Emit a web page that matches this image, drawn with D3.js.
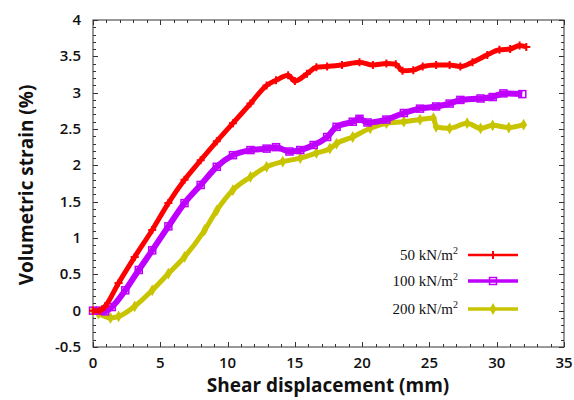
<!DOCTYPE html>
<html><head><meta charset="utf-8">
<script src="https://cdn.jsdelivr.net/npm/d3@7"></script>
<style>body{margin:0;background:#fff}svg{display:block}</style>
</head><body>
<svg id="c" width="574" height="400"></svg>
<script>
const xTicks = [0,5,10,15,20,25,30,35];
const yTicks = [-0.5,0,0.5,1,1.5,2,2.5,3,3.5,4];
const seriesNames = ["50 kN/m", "100 kN/m", "200 kN/m"];
const seriesColors = ["#ff0000", "#bf00ff", "#c8c400"];
const s50x = [0,0.5,0.9,1.9,3.1,4.4,5.6,6.8,8.0,9.2,10.4,11.7,12.9,13.6,14.5,15.0,15.9,16.6,17.4,18.5,19.8,20.8,21.8,22.5,23.0,23.8,24.5,25.5,26.5,27.3,28.2,29.3,30.2,31.0,31.7,32.2];
const s50y = [0,0,0.06,0.38,0.74,1.11,1.48,1.80,2.07,2.33,2.58,2.85,3.10,3.17,3.24,3.16,3.26,3.35,3.36,3.38,3.42,3.38,3.40,3.39,3.30,3.31,3.36,3.38,3.38,3.36,3.42,3.52,3.59,3.60,3.65,3.63];
const s100x = [0,0.5,0.9,1.4,2.4,3.4,4.4,5.6,6.8,8.0,9.2,10.4,11.7,12.9,13.6,14.6,15.4,16.4,17.4,18.1,19.3,19.8,20.4,21.8,23.1,24.3,25.5,26.5,27.3,28.8,29.7,30.5,31.9];
const s100y = [0,0,-0.01,0.05,0.28,0.56,0.83,1.16,1.48,1.73,1.98,2.14,2.21,2.23,2.25,2.19,2.21,2.28,2.39,2.53,2.60,2.64,2.59,2.63,2.72,2.78,2.81,2.85,2.90,2.92,2.94,2.99,2.98];
const s200x = [0,0.4,1.3,1.9,3.1,4.4,5.6,6.8,8.3,9.2,10.4,11.7,12.9,14.1,15.4,16.6,17.6,18.1,19.3,20.6,21.8,23.1,24.3,25.3,25.5,26.5,27.8,28.8,29.7,30.9,32.0];
const s200y = [0,-0.04,-0.10,-0.08,0.06,0.28,0.51,0.74,1.11,1.38,1.66,1.84,1.98,2.05,2.10,2.17,2.23,2.30,2.39,2.51,2.58,2.60,2.63,2.65,2.53,2.51,2.58,2.51,2.55,2.52,2.56];
const xTitle = "Shear displacement (mm)";
const yTitle = "Volumetric strain (%)";

const svg = d3.select("#c");
const L=93, R=564, T=20, B=347;
const x = d3.scaleLinear().domain([0,35]).range([L,R]);
const y = d3.scaleLinear().domain([-0.5,4]).range([B,T]);
const axisCol = "#333";
const fontSans = "'Open Sans', 'DejaVu Sans', sans-serif";

// frame
svg.append("rect").attr("x",L).attr("y",T).attr("width",R-L).attr("height",B-T)
  .attr("fill","none").attr("stroke",axisCol).attr("stroke-width",1);

// ticks (inward, all four sides)
const xMinor = d3.range(0,35.01,1);
const yMinor = d3.range(-0.5,4.001,0.1);
const tg = svg.append("g").attr("stroke",axisCol).attr("stroke-width",1);
xMinor.forEach(v=>{
  const major = Math.abs(v%5)<1e-6;
  const len = major?5:3;
  const px = Math.round(x(v))+0.5;
  tg.append("line").attr("x1",px).attr("x2",px).attr("y1",B).attr("y2",B-len);
  tg.append("line").attr("x1",px).attr("x2",px).attr("y1",T).attr("y2",T+len);
});
yMinor.forEach(v=>{
  const k = Math.round((v+0.5)*10);
  const major = k%5===0;
  const len = major?5:3;
  const py = Math.round(y(v))+0.5;
  tg.append("line").attr("x1",L).attr("x2",L+len).attr("y1",py).attr("y2",py);
  tg.append("line").attr("x1",R).attr("x2",R-len).attr("y1",py).attr("y2",py);
});

// tick labels
svg.append("g").selectAll("text").data(xTicks).join("text")
  .attr("x",d=>x(d)).attr("y",368).attr("text-anchor","middle")
  .attr("font-family",fontSans).attr("font-size",15).attr("font-weight",600).attr("fill","#111")
  .text(d=>d);
svg.append("g").selectAll("text").data(yTicks).join("text")
  .attr("x",81).attr("y",d=>y(d)+5).attr("text-anchor","end")
  .attr("font-family",fontSans).attr("font-size",15).attr("font-weight",600).attr("fill","#111")
  .text(d=>d);

// axis titles
svg.append("text").attr("x",328).attr("y",392).attr("text-anchor","middle")
  .attr("font-family",fontSans).attr("font-size",19).attr("font-weight",700).attr("fill","#111")
  .text(xTitle);
svg.append("text").attr("transform","translate(33,185) rotate(-90)").attr("text-anchor","middle")
  .attr("font-family",fontSans).attr("font-size",19).attr("font-weight",700).attr("fill","#111")
  .text(yTitle);

// series
const series = [
  {xs:s50x, ys:s50y, col:seriesColors[0], m:"plus"},
  {xs:s100x, ys:s100y, col:seriesColors[1], m:"square"},
  {xs:s200x, ys:s200y, col:seriesColors[2], m:"diamond"}
];
const line = d3.line().x(d=>x(d[0])).y(d=>y(d[1])).curve(d3.curveMonotoneX);
function marker(g, m, px, py, col){
  if(m==="plus"){
    g.append("path").attr("d",`M${px-4},${py}H${px+4}M${px},${py-4}V${py+4}`)
     .attr("stroke",col).attr("stroke-width",2).attr("fill","none");
  } else if(m==="square"){
    g.append("rect").attr("x",px-3.5).attr("y",py-3.5).attr("width",7).attr("height",7)
     .attr("fill","none").attr("stroke",col).attr("stroke-width",1.5);
  } else {
    g.append("path").attr("d",d3.symbol(d3.symbolDiamond,40)()).attr("transform",`translate(${px},${py})`)
     .attr("fill",col);
  }
}
// draw in order: 200 bottom, then 100, then 50
[2,1,0].forEach(i=>{
  const s = series[i];
  const pts = s.xs.map((v,j)=>[v,s.ys[j]]);
  const g = svg.append("g");
  g.append("path").datum(pts).attr("d",line).attr("fill","none")
    .attr("stroke",s.col).attr("stroke-width",i===1?6:5).attr("stroke-linejoin","round");
  pts.forEach(p=>marker(g,s.m,x(p[0]),y(p[1]),s.col));
});

// legend
const legY = [255,281,309];
const lg = svg.append("g");
series.forEach((s,i)=>{
  const t = lg.append("text").attr("x",458).attr("y",legY[i]+5).attr("text-anchor","end")
    .attr("font-family","'Liberation Serif','Times New Roman',serif").attr("font-size",15).attr("fill","#111");
  t.append("tspan").text(seriesNames[i]);
  t.append("tspan").attr("dy",-6).attr("font-size",10).text("2");
  lg.append("line").attr("x1",468).attr("x2",518).attr("y1",legY[i]).attr("y2",legY[i])
    .attr("stroke",s.col).attr("stroke-width",i===0?2.5:3.5);
  marker(lg,s.m,493,legY[i],s.col);
});
</script>
</body></html>
